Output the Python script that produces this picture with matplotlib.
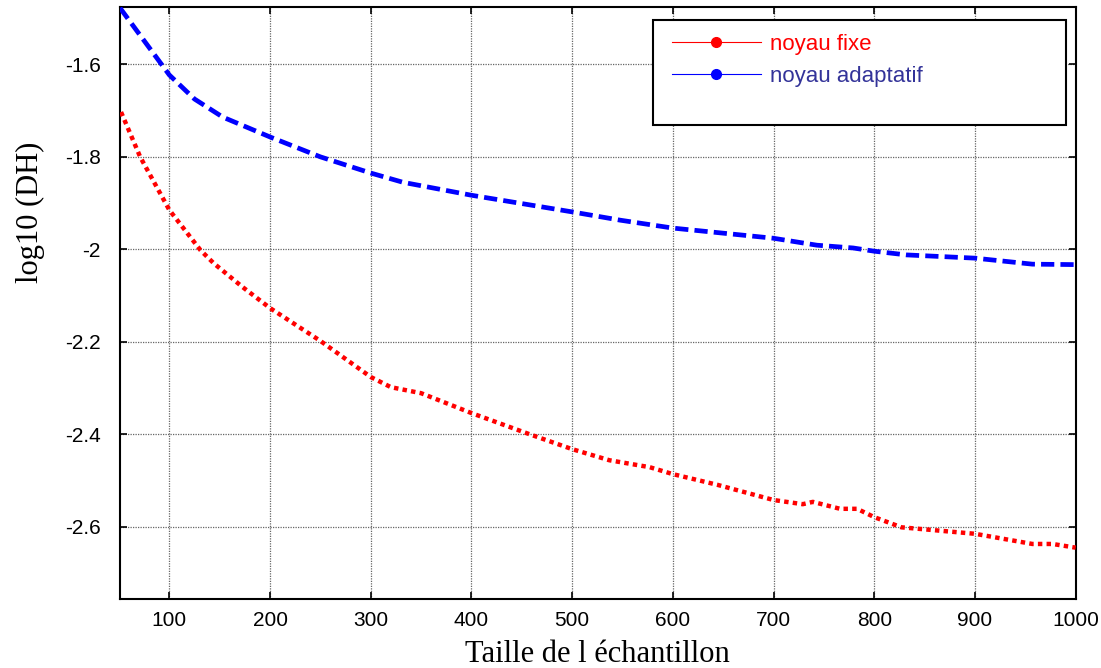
import matplotlib.pyplot as plt
from matplotlib.lines import Line2D
from matplotlib.patches import Rectangle

# noyau fixe (red, dotted)
fixe_x = [52, 71, 100, 131, 144, 173, 200, 250, 300, 320, 350, 400, 458, 500, 537,
          577, 600, 644, 700, 729, 739, 766, 783, 800, 827, 900, 957, 977, 1000]
fixe_y = [-1.703, -1.80, -1.915, -2.002, -2.03, -2.082, -2.127, -2.198, -2.276, -2.298,
          -2.311, -2.354, -2.40, -2.432, -2.456, -2.471, -2.486, -2.509, -2.542, -2.551,
          -2.546, -2.561, -2.561, -2.579, -2.601, -2.615, -2.637, -2.637, -2.645]

# noyau adaptatif (blue, dashed)
adapt_x = [51, 100, 125, 153, 200, 250, 300, 332, 400, 500, 548, 600, 650, 700, 743,
           779, 800, 832, 900, 957, 1000]
adapt_y = [-1.478, -1.623, -1.675, -1.714, -1.757, -1.80, -1.835, -1.855, -1.883, -1.919,
           -1.937, -1.954, -1.965, -1.976, -1.991, -1.997, -2.004, -2.012, -2.019, -2.032,
           -2.033]

xticks = [100, 200, 300, 400, 500, 600, 700, 800, 900, 1000]
yticks = [-2.6, -2.4, -2.2, -2.0, -1.8, -1.6]
ytick_labels = ["-2.6", "-2.4", "-2.2", "-2", "-1.8", "-1.6"]

fig = plt.figure(figsize=(11.01, 6.68), dpi=100)
ax = fig.add_axes([0.109, 0.1033, 0.868, 0.8862])

ax.plot(fixe_x, fixe_y, color="red", lw=3.2, linestyle=(0, (1.0, 0.95)),
        dash_capstyle="butt", zorder=3)
ax.plot(adapt_x, adapt_y, color="blue", lw=3.4, linestyle=(0, (2.8, 1.3)),
        dash_capstyle="butt", zorder=3)

ax.set_xlim(51, 1000)
ax.set_ylim(-2.756, -1.476)
ax.set_xticks(xticks)
ax.set_yticks(yticks)
ax.set_yticklabels(ytick_labels)

ax.grid(True, color="#666666", lw=0.9, linestyle=(0, (1, 1)))
ax.tick_params(direction="in", length=5, width=1.2, top=True, right=True,
               labelsize=15)
ax.tick_params(axis="x", pad=9)
ax.tick_params(axis="y", pad=14)
for lab in ax.get_xticklabels() + ax.get_yticklabels():
    lab.set_fontfamily("Liberation Sans")
for s in ax.spines.values():
    s.set_linewidth(1.5)

ax.set_xlabel("Taille de l échantillon", fontsize=22, family="Liberation Serif")
ax.set_ylabel("log10 (DH)", fontsize=22, family="Liberation Serif")
ax.xaxis.set_label_coords(0.5, -0.069)
ax.yaxis.set_label_coords(-0.078, 0.654)

# legend box
ax.add_patch(Rectangle((0.558, 0.80), 0.432, 0.178, transform=ax.transAxes,
                       facecolor="white", edgecolor="black", lw=1.5, zorder=5))
handles = [Line2D([], [], color="red", lw=0.8, marker="o", markersize=7),
           Line2D([], [], color="blue", lw=0.8, marker="o", markersize=7)]
leg = ax.legend(handles, ["noyau fixe", "noyau adaptatif"], loc="upper left",
                bbox_to_anchor=(0.566, 0.974), frameon=False, numpoints=1,
                handlelength=4.0, handletextpad=0.4, borderpad=0.5,
                borderaxespad=0, labelspacing=0.52,
                prop={"family": "Liberation Sans", "size": 16})
leg.set_zorder(6)
leg.get_texts()[0].set_color("red")
leg.get_texts()[1].set_color("#333399")

fig.savefig("out.png", dpi=100)
